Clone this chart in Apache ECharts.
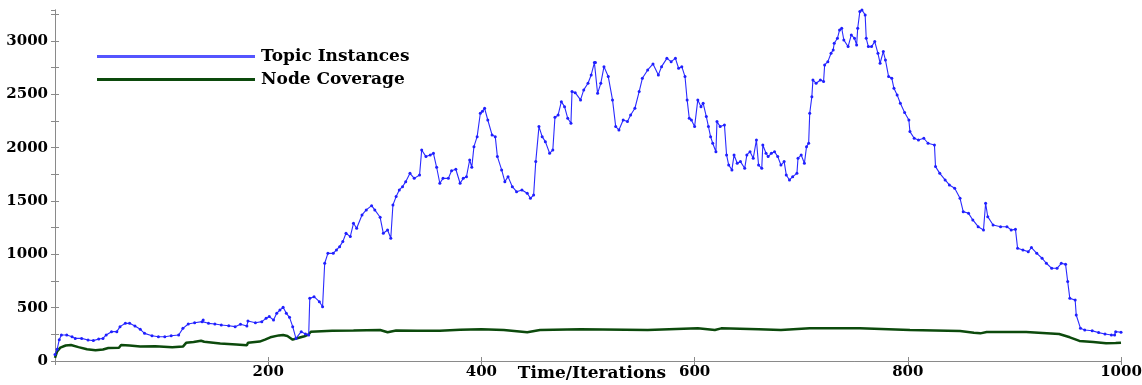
<!DOCTYPE html>
<html>
<head>
<meta charset="utf-8">
<script src="https://cdn.jsdelivr.net/npm/echarts@6/dist/echarts.min.js"></script>
<style>
  html, body { margin: 0; padding: 0; background: #fff; }
  #chart { width: 1142px; height: 385px; }
</style>
</head>
<body>
<div id="chart"></div>
<script>
// Topic instances per iteration
const topicIter = [0, 2, 4, 6, 11, 16, 19, 25, 31, 36, 41, 45, 48, 53, 58, 61, 66, 70, 75, 80, 84, 91, 97, 103, 109, 116, 120, 125, 131, 138, 139, 144, 150, 156, 163, 169, 174, 180, 181, 188, 194, 198, 201, 205, 208, 211, 214, 217, 220, 223, 226, 231, 235, 238, 239, 243, 248, 251, 253, 256, 261, 264, 267, 270, 273, 277, 280, 283, 288, 292, 297, 300, 305, 308, 312, 315, 317, 320, 323, 326, 329, 333, 337, 342, 344, 348, 352, 355, 358, 361, 364, 369, 372, 376, 380, 383, 386, 389, 391, 393, 396, 399, 401, 403, 406, 410, 413, 415, 419, 422, 425, 429, 433, 438, 443, 446, 449, 451, 454, 457, 460, 464, 467, 469, 472, 475, 478, 481, 484, 485, 488, 493, 496, 500, 503, 506, 507, 509, 512, 515, 519, 523, 526, 529, 533, 537, 540, 544, 548, 551, 556, 561, 566, 569, 574, 578, 582, 585, 588, 591, 593, 595, 597, 600, 603, 606, 608, 611, 613, 615, 617, 620, 621, 624, 628, 630, 632, 635, 637, 640, 643, 647, 649, 652, 655, 658, 660, 663, 664, 667, 669, 672, 675, 678, 681, 684, 686, 689, 692, 696, 697, 700, 703, 705, 707, 708, 710, 711, 714, 718, 721, 722, 725, 728, 730, 731, 734, 736, 738, 740, 744, 747, 750, 752, 753, 755, 757, 760, 761, 763, 766, 769, 772, 774, 777, 779, 782, 785, 787, 790, 793, 797, 801, 802, 806, 810, 815, 819, 825, 826, 830, 835, 839, 844, 849, 852, 857, 861, 866, 871, 873, 875, 880, 887, 893, 897, 901, 903, 908, 913, 916, 921, 926, 930, 935, 940, 944, 948, 950, 952, 957, 958, 962, 966, 973, 979, 985, 991, 994, 995, 1000];
const topicCount = [60, 110, 200, 244, 244, 228, 212, 212, 197, 191, 206, 212, 244, 275, 275, 322, 353, 353, 328, 297, 259, 237, 228, 228, 237, 244, 306, 347, 359, 369, 384, 353, 347, 338, 331, 322, 344, 328, 375, 359, 369, 400, 416, 384, 447, 478, 503, 447, 409, 322, 212, 275, 253, 244, 587, 603, 556, 509, 916, 1009, 1009, 1041, 1072, 1119, 1197, 1166, 1291, 1244, 1369, 1416, 1456, 1416, 1347, 1197, 1228, 1150, 1462, 1541, 1603, 1634, 1681, 1759, 1712, 1744, 1978, 1916, 1931, 1947, 1816, 1666, 1712, 1712, 1784, 1797, 1666, 1712, 1728, 1884, 1816, 2009, 2103, 2322, 2340, 2369, 2259, 2119, 2103, 1916, 1791, 1681, 1728, 1634, 1587, 1603, 1572, 1525, 1556, 1869, 2197, 2103, 2056, 1947, 1978, 2284, 2306, 2431, 2384, 2275, 2228, 2525, 2515, 2447, 2541, 2603, 2681, 2797, 2797, 2509, 2603, 2759, 2666, 2447, 2197, 2166, 2259, 2244, 2306, 2369, 2525, 2650, 2728, 2784, 2681, 2759, 2837, 2806, 2837, 2744, 2759, 2666, 2447, 2275, 2259, 2197, 2447, 2384, 2416, 2291, 2197, 2103, 2041, 1962, 2244, 2197, 2213, 1931, 1837, 1791, 1931, 1853, 1869, 1806, 1931, 1962, 1900, 2072, 1837, 1806, 2025, 1947, 1916, 1947, 1962, 1916, 1837, 1869, 1744, 1697, 1728, 1759, 1900, 1931, 1853, 2009, 2041, 2322, 2478, 2634, 2603, 2634, 2619, 2775, 2806, 2884, 2916, 2978, 3025, 3103, 3119, 3009, 2947, 3056, 3025, 2962, 3119, 3275, 3290, 3244, 3025, 2947, 2947, 2994, 2884, 2791, 2900, 2822, 2666, 2650, 2556, 2494, 2416, 2330, 2259, 2150, 2088, 2072, 2088, 2041, 2025, 1822, 1759, 1697, 1650, 1619, 1525, 1400, 1384, 1322, 1259, 1228, 1478, 1353, 1275, 1259, 1259, 1228, 1234, 1056, 1041, 1025, 1063, 1009, 963, 916, 869, 869, 916, 906, 744, 587, 572, 431, 306, 291, 284, 266, 253, 244, 244, 275, 269];

// Node coverage per iteration
const nodeIter = [0, 2, 5, 10, 15, 22, 30, 38, 45, 50, 60, 62, 70, 80, 94, 110, 120, 123, 130, 137, 140, 155, 170, 180, 181, 192, 197, 202, 210, 214, 218, 223, 228, 234, 238, 240, 250, 260, 280, 305, 312, 320, 340, 361, 380, 400, 421, 443, 455, 493, 556, 603, 619, 625, 660, 681, 708, 755, 802, 849, 862, 868, 874, 911, 942, 952, 961, 974, 986, 995, 1000];
const nodeCount = [30, 90, 125, 145, 150, 130, 110, 100, 108, 122, 125, 150, 145, 135, 138, 128, 135, 170, 178, 190, 180, 165, 155, 148, 170, 182, 200, 222, 240, 244, 235, 200, 215, 232, 250, 275, 280, 284, 287, 291, 270, 285, 284, 284, 292, 297, 291, 270, 291, 297, 291, 306, 291, 306, 297, 291, 306, 306, 291, 281, 265, 259, 272, 272, 253, 222, 188, 178, 166, 168, 172];

const seriesNames = ['Topic Instances', 'Node Coverage'];
const axisTitleX = 'Time/Iterations';

const zip = (xs, ys) => xs.map((x, i) => [x, ys[i]]);

const serifBold = {
  fontFamily: 'DejaVu Serif',
  fontWeight: 'bold',
  color: '#000'
};
const frame = { show: true, lineStyle: { color: '#8a8a8a', width: 1 } };
const innerTick = { show: true, inside: true, length: 4, lineStyle: { color: '#8a8a8a' } };

const chart = echarts.init(document.getElementById('chart'), null, { renderer: 'canvas' });

chart.setOption({
  animation: false,
  backgroundColor: '#fff',
  grid: { left: 55, right: 21, top: 10, bottom: 24, containLabel: false, outerBoundsMode: 'none' },
  legend: {
    orient: 'vertical',
    left: 92,
    top: 43,
    itemWidth: 158,
    itemHeight: 3,
    itemGap: 6,
    icon: 'rect',
    textStyle: Object.assign({ fontSize: 17, padding: [0, 0, 0, 1] }, serifBold),
    data: [
      { name: seriesNames[0], itemStyle: { color: '#5555ff' } },
      { name: seriesNames[1], itemStyle: { color: '#0c4a0c' } }
    ]
  },
  xAxis: [{
    type: 'value',
    min: 0,
    max: 1000,
    interval: 200,
    position: 'bottom',
    axisLine: frame,
    axisTick: innerTick,
    splitLine: { show: false },
    axisLabel: Object.assign({
      fontSize: 15,
      margin: 4,
      formatter: v => (v === 0 ? '' : String(v))
    }, serifBold),
    name: axisTitleX,
    nameLocation: 'middle',
    nameGap: 4,
    nameMoveOverlap: false,
    nameTextStyle: Object.assign({ fontSize: 17, verticalAlign: 'top', padding: [0, 0, 0, 8] }, serifBold)
  }, {
    type: 'value',
    min: 0,
    max: 1000,
    interval: 200,
    position: 'top',
    axisLine: frame,
    axisTick: innerTick,
    axisLabel: { show: false },
    splitLine: { show: false }
  }],
  yAxis: [{
    type: 'value',
    min: 0,
    max: 3290,
    interval: 250,
    position: 'left',
    axisLine: frame,
    axisTick: innerTick,
    splitLine: { show: false },
    axisLabel: Object.assign({
      fontSize: 15,
      margin: 7,
      showMaxLabel: false,
      formatter: v => (v % 500 === 0 ? String(v) : '')
    }, serifBold)
  }, {
    type: 'value',
    min: 0,
    max: 3290,
    interval: 250,
    position: 'right',
    axisLine: frame,
    axisTick: innerTick,
    axisLabel: { show: false },
    splitLine: { show: false }
  }],
  series: [{
    name: seriesNames[0],
    type: 'line',
    data: zip(topicIter, topicCount),
    symbol: 'circle',
    symbolSize: 3,
    showSymbol: true,
    itemStyle: { color: '#1f1fff' },
    lineStyle: { color: '#2a2aff', width: 1.1 },
    z: 3
  }, {
    name: seriesNames[1],
    type: 'line',
    data: zip(nodeIter, nodeCount),
    symbol: 'none',
    itemStyle: { color: '#0c4a0c' },
    lineStyle: { color: '#0c4a0c', width: 2.5 },
    z: 2
  }]
});
</script>
</body>
</html>
